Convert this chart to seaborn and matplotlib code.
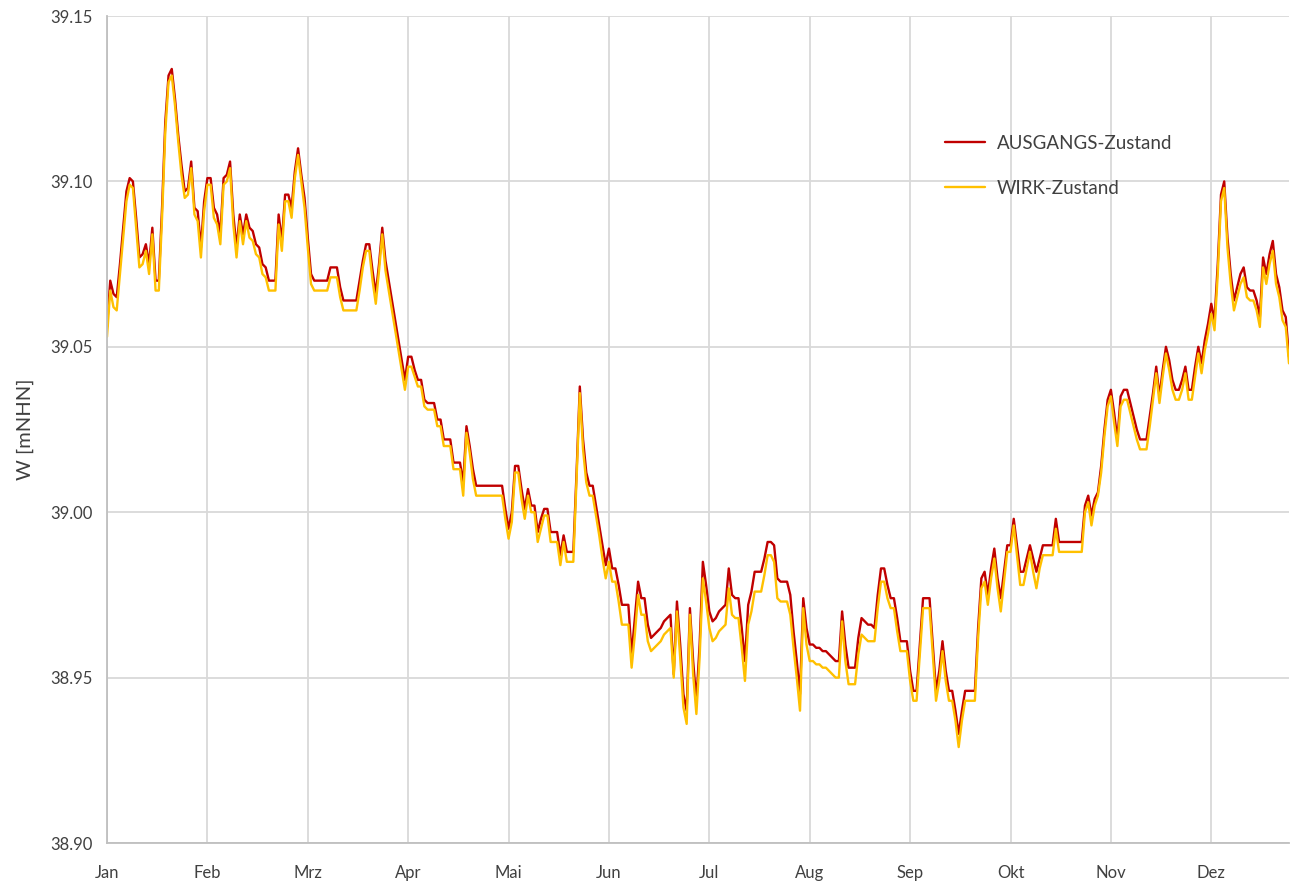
import numpy as np
import pandas as pd
import seaborn as sns
import matplotlib
matplotlib.use("Agg")
import matplotlib.pyplot as plt

# tick labels: one label every 31 days (category axis)
monate = ["Jan", "Feb", "Mrz", "Apr", "Mai", "Jun", "Jul", "Aug", "Sep", "Okt", "Nov", "Dez"]

# daily water level [mNHN]
ausgangs = [
    39.056, 39.070, 39.066, 39.065, 39.075, 39.086, 39.097, 39.101, 39.100, 39.089,
    39.077, 39.078, 39.081, 39.075, 39.086, 39.070, 39.070, 39.092, 39.118, 39.132,
    39.134, 39.125, 39.114, 39.105, 39.097, 39.098, 39.106, 39.092, 39.091, 39.080,
    39.094, 39.101, 39.101, 39.092, 39.090, 39.084, 39.101, 39.102, 39.106, 39.090,
    39.080, 39.090, 39.084, 39.090, 39.086, 39.085, 39.081, 39.080, 39.075, 39.074,
    39.070, 39.070, 39.070, 39.090, 39.082, 39.096, 39.096, 39.092, 39.103, 39.110,
    39.102, 39.095, 39.083, 39.072, 39.070, 39.070, 39.070, 39.070, 39.070, 39.074,
    39.074, 39.074, 39.068, 39.064, 39.064, 39.064, 39.064, 39.064, 39.070, 39.076,
    39.081, 39.081, 39.073, 39.066, 39.075, 39.086, 39.076, 39.070, 39.064, 39.058,
    39.052, 39.046, 39.040, 39.047, 39.047, 39.043, 39.040, 39.040, 39.034, 39.033,
    39.033, 39.033, 39.028, 39.028, 39.022, 39.022, 39.022, 39.015, 39.015, 39.015,
    39.009, 39.026, 39.020, 39.013, 39.008, 39.008, 39.008, 39.008, 39.008, 39.008,
    39.008, 39.008, 39.008, 39.001, 38.995, 39.000, 39.014, 39.014, 39.007, 39.001,
    39.007, 39.002, 39.002, 38.994, 38.998, 39.001, 39.001, 38.994, 38.994, 38.994,
    38.987, 38.993, 38.988, 38.988, 38.988, 39.012, 39.038, 39.022, 39.012, 39.008,
    39.008, 39.002, 38.996, 38.990, 38.984, 38.989, 38.983, 38.983, 38.978, 38.972,
    38.972, 38.972, 38.957, 38.968, 38.979, 38.974, 38.974, 38.966, 38.962, 38.963,
    38.964, 38.965, 38.967, 38.968, 38.969, 38.951, 38.973, 38.960, 38.945, 38.940,
    38.971, 38.955, 38.943, 38.960, 38.985, 38.978, 38.970, 38.967, 38.968, 38.970,
    38.971, 38.972, 38.983, 38.975, 38.974, 38.974, 38.965, 38.955, 38.972, 38.976,
    38.982, 38.982, 38.982, 38.986, 38.991, 38.991, 38.990, 38.980, 38.979, 38.979,
    38.979, 38.975, 38.964, 38.955, 38.945, 38.974, 38.965, 38.960, 38.960, 38.959,
    38.959, 38.958, 38.958, 38.957, 38.956, 38.955, 38.955, 38.970, 38.960, 38.953,
    38.953, 38.953, 38.962, 38.968, 38.967, 38.966, 38.966, 38.965, 38.975, 38.983,
    38.983, 38.978, 38.974, 38.974, 38.968, 38.961, 38.961, 38.961, 38.952, 38.946,
    38.946, 38.960, 38.974, 38.974, 38.974, 38.960, 38.946, 38.952, 38.961, 38.952,
    38.946, 38.946, 38.940, 38.933, 38.940, 38.946, 38.946, 38.946, 38.946, 38.965,
    38.980, 38.982, 38.975, 38.983, 38.989, 38.980, 38.974, 38.982, 38.990, 38.990,
    38.998, 38.990, 38.982, 38.982, 38.986, 38.990, 38.986, 38.982, 38.986, 38.990,
    38.990, 38.990, 38.990, 38.998, 38.991, 38.991, 38.991, 38.991, 38.991, 38.991,
    38.991, 38.991, 39.002, 39.005, 38.999, 39.004, 39.006, 39.014, 39.025, 39.034,
    39.037, 39.030, 39.022, 39.035, 39.037, 39.037, 39.033, 39.029, 39.025, 39.022,
    39.022, 39.022, 39.029, 39.036, 39.044, 39.035, 39.043, 39.050, 39.046, 39.040,
    39.037, 39.037, 39.040, 39.044, 39.037, 39.037, 39.044, 39.050, 39.045, 39.052,
    39.057, 39.063, 39.058, 39.075, 39.096, 39.100, 39.083, 39.072, 39.064, 39.068,
    39.072, 39.074, 39.068, 39.067, 39.067, 39.064, 39.059, 39.077, 39.072, 39.078,
    39.082, 39.072, 39.068, 39.061, 39.059, 39.047,
]

wirk = [
    39.053, 39.067, 39.062, 39.061, 39.072, 39.083, 39.094, 39.099, 39.098, 39.086,
    39.074, 39.075, 39.079, 39.072, 39.084, 39.067, 39.067, 39.089, 39.115, 39.130,
    39.132, 39.123, 39.112, 39.102, 39.095, 39.096, 39.104, 39.090, 39.088, 39.077,
    39.091, 39.099, 39.099, 39.089, 39.087, 39.081, 39.099, 39.100, 39.104, 39.087,
    39.077, 39.088, 39.081, 39.088, 39.083, 39.082, 39.078, 39.077, 39.072, 39.071,
    39.067, 39.067, 39.067, 39.087, 39.079, 39.094, 39.094, 39.089, 39.101, 39.108,
    39.100, 39.092, 39.080, 39.069, 39.067, 39.067, 39.067, 39.067, 39.067, 39.071,
    39.071, 39.071, 39.065, 39.061, 39.061, 39.061, 39.061, 39.061, 39.067, 39.074,
    39.079, 39.079, 39.070, 39.063, 39.073, 39.084, 39.073, 39.067, 39.061, 39.055,
    39.049, 39.043, 39.037, 39.044, 39.044, 39.041, 39.038, 39.038, 39.032, 39.031,
    39.031, 39.031, 39.026, 39.026, 39.020, 39.020, 39.020, 39.013, 39.013, 39.013,
    39.005, 39.024, 39.018, 39.010, 39.005, 39.005, 39.005, 39.005, 39.005, 39.005,
    39.005, 39.005, 39.005, 38.998, 38.992, 38.997, 39.012, 39.012, 39.004, 38.998,
    39.005, 39.000, 39.000, 38.991, 38.995, 38.999, 38.999, 38.991, 38.991, 38.991,
    38.984, 38.991, 38.985, 38.985, 38.985, 39.010, 39.036, 39.019, 39.009, 39.005,
    39.005, 38.999, 38.993, 38.986, 38.980, 38.985, 38.979, 38.979, 38.973, 38.966,
    38.966, 38.966, 38.953, 38.963, 38.975, 38.969, 38.969, 38.961, 38.958, 38.959,
    38.960, 38.961, 38.963, 38.964, 38.965, 38.950, 38.970, 38.956, 38.941, 38.936,
    38.969, 38.951, 38.939, 38.956, 38.980, 38.973, 38.965, 38.961, 38.962, 38.964,
    38.965, 38.966, 38.977, 38.969, 38.968, 38.968, 38.959, 38.949, 38.966, 38.970,
    38.976, 38.976, 38.976, 38.981, 38.987, 38.987, 38.985, 38.974, 38.973, 38.973,
    38.973, 38.969, 38.959, 38.950, 38.940, 38.971, 38.960, 38.955, 38.955, 38.954,
    38.954, 38.953, 38.953, 38.952, 38.951, 38.950, 38.950, 38.967, 38.955, 38.948,
    38.948, 38.948, 38.957, 38.963, 38.962, 38.961, 38.961, 38.961, 38.971, 38.979,
    38.979, 38.974, 38.971, 38.971, 38.964, 38.958, 38.958, 38.958, 38.949, 38.943,
    38.943, 38.957, 38.971, 38.971, 38.971, 38.957, 38.943, 38.949, 38.958, 38.949,
    38.943, 38.943, 38.937, 38.929, 38.937, 38.943, 38.943, 38.943, 38.943, 38.962,
    38.977, 38.979, 38.972, 38.980, 38.986, 38.977, 38.970, 38.979, 38.988, 38.988,
    38.996, 38.987, 38.978, 38.978, 38.983, 38.988, 38.982, 38.977, 38.983, 38.987,
    38.987, 38.987, 38.987, 38.995, 38.988, 38.988, 38.988, 38.988, 38.988, 38.988,
    38.988, 38.988, 39.000, 39.003, 38.996, 39.002, 39.005, 39.012, 39.023, 39.032,
    39.035, 39.027, 39.020, 39.032, 39.034, 39.034, 39.030, 39.026, 39.022, 39.019,
    39.019, 39.019, 39.026, 39.034, 39.042, 39.033, 39.041, 39.048, 39.043, 39.037,
    39.034, 39.034, 39.037, 39.042, 39.034, 39.034, 39.041, 39.048, 39.042, 39.049,
    39.054, 39.060, 39.055, 39.072, 39.094, 39.098, 39.080, 39.069, 39.061, 39.065,
    39.069, 39.071, 39.065, 39.064, 39.064, 39.061, 39.056, 39.074, 39.069, 39.075,
    39.079, 39.069, 39.065, 39.058, 39.056, 39.045,
]

tage = np.arange(len(ausgangs))
df = pd.DataFrame({
    "tag": np.concatenate([tage, tage]),
    "W": ausgangs + wirk,
    "Zustand": ["AUSGANGS-Zustand"] * len(ausgangs) + ["WIRK-Zustand"] * len(wirk),
})

sns.set_theme(style="white")
plt.rcParams["font.family"] = ["Lato", "DejaVu Sans"]

fig, ax = plt.subplots(figsize=(12.95, 8.85), dpi=100)
fig.subplots_adjust(left=107 / 1295, right=1289 / 1295, top=1 - 16 / 885, bottom=1 - 843 / 885)

sns.lineplot(
    data=df, x="tag", y="W", hue="Zustand",
    palette={"AUSGANGS-Zustand": "#C00000", "WIRK-Zustand": "#FFC000"},
    linewidth=1.7, ax=ax,
)

ax.set_xlim(0, len(ausgangs) - 1)
ax.set_ylim(38.90, 39.15)
ax.set_xticks(np.arange(len(monate)) * 31)
ax.set_xticklabels(monate)
ax.set_yticks(np.arange(38.90, 39.151, 0.05))
ax.yaxis.set_major_formatter(matplotlib.ticker.FormatStrFormatter("%.2f"))
ax.grid(True, color="#d9d9d9", linewidth=1.3)
ax.tick_params(axis="both", labelsize=12, colors="#404040", length=0)
ax.tick_params(axis="x", pad=16)
ax.tick_params(axis="y", pad=10)
for side in ["top", "right"]:
    ax.spines[side].set_visible(False)
for side in ["left", "bottom"]:
    ax.spines[side].set_color("#bfbfbf")
    ax.spines[side].set_linewidth(1.3)

ax.set_xlabel("")
ax.set_ylabel("W [mNHN]", fontsize=14.5, color="#404040", labelpad=12)

ax.legend(
    loc="upper left", bbox_to_anchor=(0.695, 0.877), frameon=False,
    fontsize=13.5, handlelength=2.1, labelspacing=1.5, handletextpad=0.65,
    labelcolor="#404040",
)

fig.savefig("out.png", dpi=100)
